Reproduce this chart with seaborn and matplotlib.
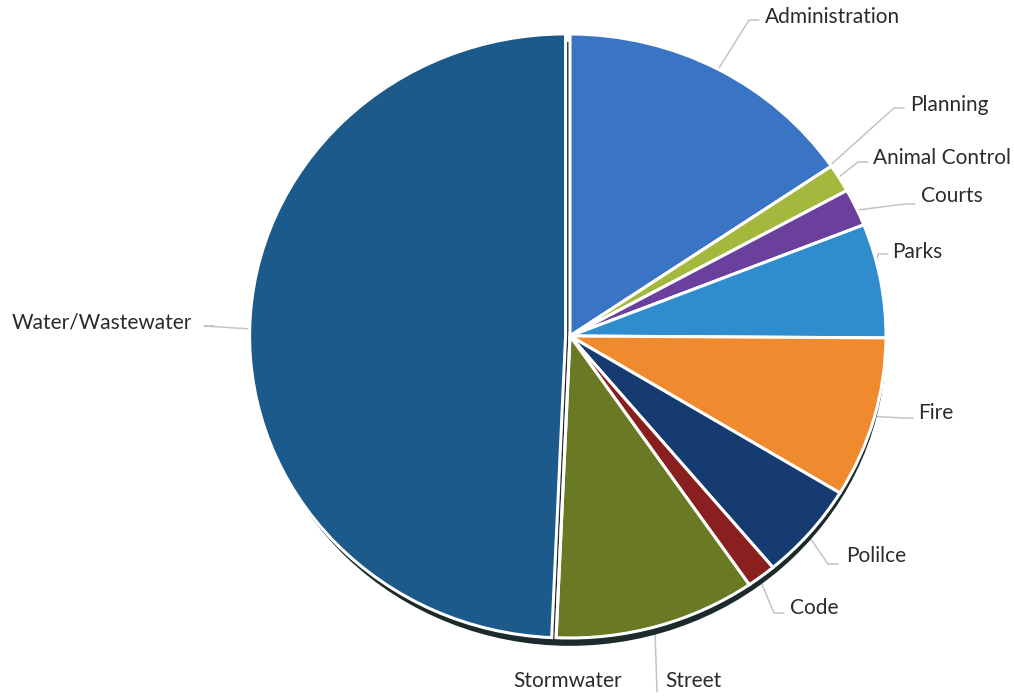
import numpy as np
import matplotlib
matplotlib.use("Agg")
import matplotlib.pyplot as plt
from matplotlib.patches import Ellipse
import seaborn as sns

# Budget share by department, clockwise from 12 o'clock (percent)
departments = ["Administration", "Planning", "Animal Control", "Courts", "Parks",
               "Fire", "Polilce", "Code", "Street", "Stormwater", "Water/Wastewater"]
shares = [15.5, 0.0, 1.5, 2.0, 6.1, 8.6, 5.2, 1.5, 10.3, 0.0, 49.3]
colors = ["#3a74c4", "#a3b83c", "#a3b83c", "#6b3f9c", "#2f8ccd",
          "#ef8a2f", "#153b70", "#8a1f1f", "#6a7a24", "#6a7a24", "#1d5a8c"]

sns.set_theme(style="white")
plt.rcParams["font.family"] = ["Lato", "DejaVu Sans"]

W, H = 1014, 696
fig = plt.figure(figsize=(W / 100, H / 100), dpi=100)
ax = fig.add_axes([0, 0, 1, 1])

# pixel <-> data mapping for the layout (pie centre and radii in pixels)
CX, CY, RX, RY = 570, 336, 316, 302


def px(x, y):
    return (x - CX) / RX, (CY - y) / RY


# dark rim under the pie, giving the tilted-disc look
ax.add_patch(Ellipse((0, -0.026), 2.0, 2.0, facecolor="#1c2a2c",
                     edgecolor="none", zorder=1))

explode = [0.0] * (len(shares) - 1) + [0.014]
wedges, _ = ax.pie(shares, colors=colors, startangle=90, counterclock=False,
                   explode=explode, radius=1.0,
                   wedgeprops=dict(edgecolor="white", linewidth=2.2))
for w in wedges:
    w.set_zorder(2)

ax.set_aspect("auto")
ax.set_xlim(px(0, 0)[0], px(W, 0)[0])
ax.set_ylim(px(0, H)[1], px(0, 0)[1])
ax.axis("off")

# label layout: text position (px), alignment, leader end near the text (px)
layout = {
    "Administration": ((765, 17), "left", (759, 20)),
    "Planning": ((910, 105), "left", (904, 108)),
    "Animal Control": ((873, 158), "left", (868, 162)),
    "Courts": ((921, 196), "left", (915, 204)),
    "Parks": ((892, 252), "left", (888, 254)),
    "Fire": ((918, 413), "left", (913, 418)),
    "Polilce": ((846, 556), "left", (838, 564)),
    "Code": ((790, 608), "left", (784, 613)),
    "Street": ((665, 681), "left", None),
    "Stormwater": ((622, 681), "right", None),
    "Water/Wastewater": ((12, 322), "left", (214, 326)),
}

lead_color = "#c4c4c4"
for w, name in zip(wedges, departments):
    (tx, ty), ha, end = layout[name]
    ax.text(*px(tx, ty), name, ha=ha, va="center", fontsize=15,
            color="#2b2b2b", zorder=5)
    mid = np.deg2rad((w.theta1 + w.theta2) / 2)
    cx, cy = w.center
    ax_, ay_ = cx + 0.97 * np.cos(mid), cy + 0.97 * np.sin(mid)
    if name == "Street":
        ex, ey = px(tx - 8, 692)
        ax.plot([ax_, ex], [ay_, ey], color=lead_color, lw=1.1, zorder=0.5)
    elif end is not None:
        ex, ey = px(*end)
        elbow_x = ex - 10 / RX
        ax.plot([ax_, elbow_x, ex], [ay_, ey, ey], color=lead_color, lw=1.1,
                zorder=0.5)

fig.savefig("out.png", dpi=100, facecolor="white")
